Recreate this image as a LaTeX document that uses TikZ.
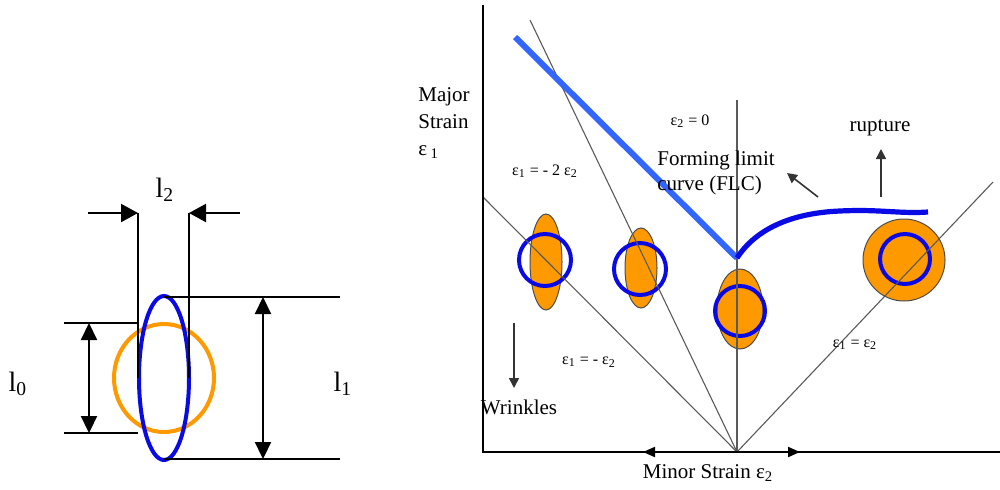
\documentclass[tikz,border=0pt]{standalone}
\usepackage{fontspec}
\setmainfont{Liberation Serif}
\usetikzlibrary{arrows.meta}
\definecolor{ringorange}{RGB}{255,153,0}
\definecolor{ringblue}{RGB}{10,10,230}
\definecolor{flcblue}{RGB}{51,102,255}
\definecolor{guide}{RGB}{90,90,90}
\tikzset{
  orangering/.style={draw=ringorange, line width=2pt},
  bluering/.style={draw=ringblue, line width=2pt},
  orangeblob/.style={fill=ringorange, draw=black!70, line width=0.5pt},
  dimline/.style={black, line width=0.7pt},
  dimarrow/.style={black, line width=1.1pt, {Triangle[length=8.5pt,width=8pt]}-{Triangle[length=8.5pt,width=8pt]}},
  pointarrow/.style={black, line width=1.1pt, -{Triangle[length=8.5pt,width=9pt]}},
  axisline/.style={black, line width=1pt},
  guideline/.style={guide, line width=0.55pt},
  smallarrow/.style={black!80, line width=0.8pt, -{Triangle[length=5pt,width=5pt]}},
  lbl/.style={font=\fontsize{10.5}{12.5}\selectfont, inner sep=0pt},
  slbl/.style={font=\fontsize{8}{10}\selectfont, inner sep=0pt},
  biglbl/.style={font=\fontsize{14}{16}\selectfont, inner sep=0pt},
}
\begin{document}
\begin{tikzpicture}[x=0.5pt,y=-0.5pt]
\useasboundingbox (0,0) rectangle (1000,489);

% ---------------- left diagram ----------------
\draw[orangering] (164,378) ellipse [x radius=50, y radius=54];
\draw[bluering] (164,378) ellipse [x radius=25, y radius=82];

\coordinate (l0top) at (64,323);
\coordinate (l0bot) at (64,433);
\draw[dimline] (l0top) -- (138,323);
\draw[dimline] (l0bot) -- (138,433);
\draw[dimline] (164,297) -- (340,297);
\draw[dimline] (164,459) -- (340,459);
\draw[dimline] (138,213) -- (138,378);
\draw[dimline] (189,213) -- (189,378);

\coordinate (a0t) at (89,323);
\coordinate (a0b) at (89,433);
\draw[dimarrow] (a0t) -- (a0b);
\coordinate (a1t) at (263,297);
\coordinate (a1b) at (263,459);
\draw[dimarrow] (a1t) -- (a1b);

\coordinate (h1s) at (88,213);
\coordinate (h1e) at (138,213);
\draw[pointarrow] (h1s) -- (h1e);
\coordinate (h2s) at (240,213);
\coordinate (h2e) at (189,213);
\draw[pointarrow] (h2s) -- (h2e);

\node[biglbl] (l2) at (165,190) {l\textsubscript{2}};
\node[biglbl] (l0) at (18,384) {l\textsubscript{0}};
\node[biglbl] (l1) at (343,384) {l\textsubscript{1}};

% ---------------- right diagram ----------------
\coordinate (O) at (737,452);

% ellipses
\filldraw[orangeblob] (546,262) ellipse [x radius=16, y radius=48];
\draw[bluering] (545,260) circle [radius=26];
\filldraw[orangeblob] (641,268) ellipse [x radius=16, y radius=40];
\draw[bluering] (640,269) circle [radius=26];
\filldraw[orangeblob] (740,309) ellipse [x radius=23, y radius=40];
\draw[bluering] (740,311) circle [radius=25];
\filldraw[orangeblob] (904,260) circle [radius=41];
\draw[bluering] (905,259) circle [radius=25];

% guide lines from origin
\draw[guideline] (O) -- (737,100);
\draw[guideline] (O) -- (530,20);
\draw[guideline] (O) -- (483,197);
\draw[guideline] (O) -- (993,182);

% axes
\draw[axisline] (483,5) -- (483,452) -- (1000,452);
\coordinate (axl) at (643,452);
\coordinate (axr) at (800,452);
\draw[axisline, -{Triangle[length=6pt,width=5pt]}] (O) -- (axl);
\draw[axisline, -{Triangle[length=6pt,width=5pt]}] (O) -- (axr);

% forming limit curve
\coordinate (V) at (737,258);
\draw[flcblue, line width=3pt] (515,37) -- (V);
\draw[ringblue, line width=2.6pt] (V) .. controls (755,230) and (790,213) .. (840,211)
  .. controls (880,209) and (900,214) .. (928,212);

% labels
\node[lbl, align=left, anchor=north west] (major) at (418,87) {Major\\[1pt]Strain\\[1pt]ε\,\textsubscript{1}};
\node[slbl] (m2) at (545,171) {ε\textsubscript{1} = - 2 ε\textsubscript{2}};
\node[slbl] (z0) at (690,121) {ε\textsubscript{2} = 0};
\node[lbl, align=left, anchor=west] (flc) at (657,173) {Forming limit\\curve (FLC)};
\node[lbl] (rup) at (880,128) {rupture};
\node[slbl] (m1) at (589,362) {ε\textsubscript{1} = - ε\textsubscript{2}};
\node[slbl] (eq) at (855,345) {ε\textsubscript{1} = ε\textsubscript{2}};
\node[lbl] (wr) at (519,407) {Wrinkles};
\node[lbl] (minor) at (708,473) {Minor Strain ε\textsubscript{2}};

\coordinate (fa1) at (818,197);
\coordinate (fa2) at (787,173);
\draw[smallarrow] (fa1) -- (fa2);
\coordinate (ra1) at (881,197);
\coordinate (ra2) at (881,149);
\draw[smallarrow] (ra1) -- (ra2);
\coordinate (wa1) at (514,323);
\coordinate (wa2) at (514,388);
\draw[smallarrow] (wa1) -- (wa2);
\end{tikzpicture}
\end{document}
